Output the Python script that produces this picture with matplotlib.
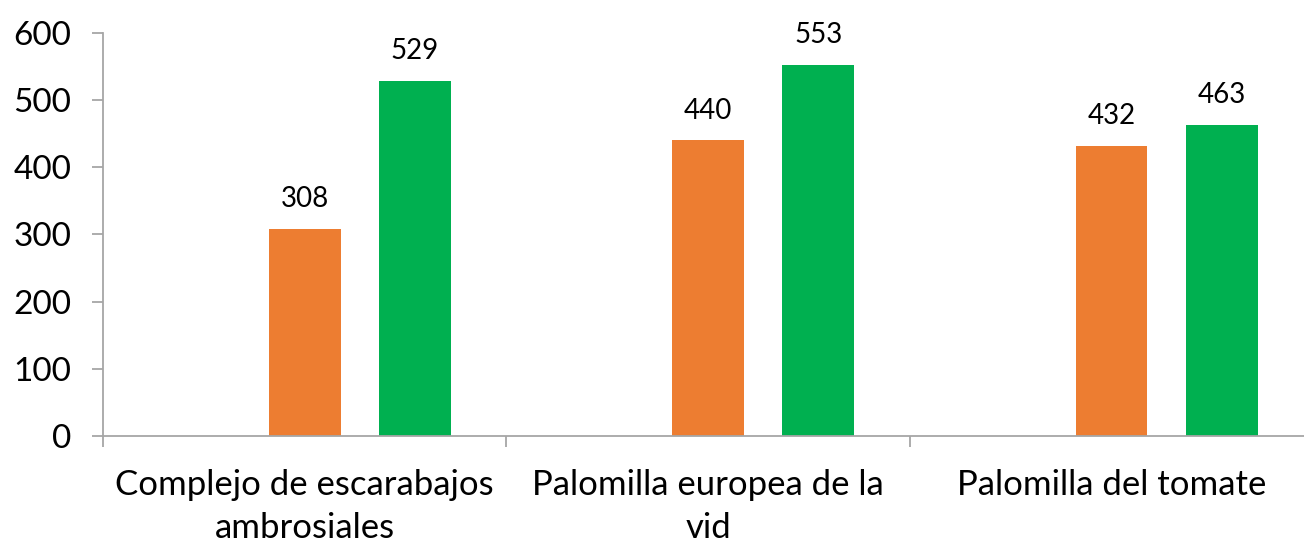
import matplotlib.pyplot as plt
import numpy as np

# datos del gráfico
categorias = ['Complejo de escarabajos\nambrosiales', 'Palomilla europea de la\nvid', 'Palomilla del tomate']
serie_naranja = [308, 440, 432]
serie_verde = [529, 553, 463]
ticks_y = [0, 100, 200, 300, 400, 500, 600]

plt.rcParams['font.family'] = ['Lato', 'DejaVu Sans']

fig = plt.figure(figsize=(13.04, 5.44), dpi=100)
ax = fig.add_axes([103 / 1304, 108 / 544, 1 - 103 / 1304, (436 - 33) / 544])

x = np.arange(len(categorias))
ancho = 0.178
gris = '#A6A6A6'

b1 = ax.bar(x, serie_naranja, ancho, color='#ED7D31')
b2 = ax.bar(x + 0.273, serie_verde, ancho, color='#00B050')

for barras in (b1, b2):
    for b in barras:
        ax.annotate(f'{b.get_height():.0f}', (b.get_x() + b.get_width() / 2, b.get_height()),
                    xytext=(0, 12), textcoords='offset points',
                    ha='center', va='bottom', fontsize=20, color='#000000')

ax.set_ylim(0, 600)
ax.set_xlim(-0.5, 2.477)
ax.set_yticks(ticks_y)
ax.set_xticks(x + 0.0)
ax.set_xticklabels(categorias, fontsize=25, linespacing=1.42)
ax.set_xticks([-0.5, 0.5, 1.5], minor=True)

for lado in ('top', 'right'):
    ax.spines[lado].set_visible(False)
for lado in ('left', 'bottom'):
    ax.spines[lado].set_color(gris)
    ax.spines[lado].set_linewidth(1.3)

ax.tick_params(axis='y', labelsize=24, length=8, width=1.3, color=gris, pad=15)
ax.tick_params(axis='x', which='major', length=0, pad=24)
ax.tick_params(axis='x', which='minor', length=8, width=1.3, color=gris)

fig.savefig('out.png', dpi=100)
